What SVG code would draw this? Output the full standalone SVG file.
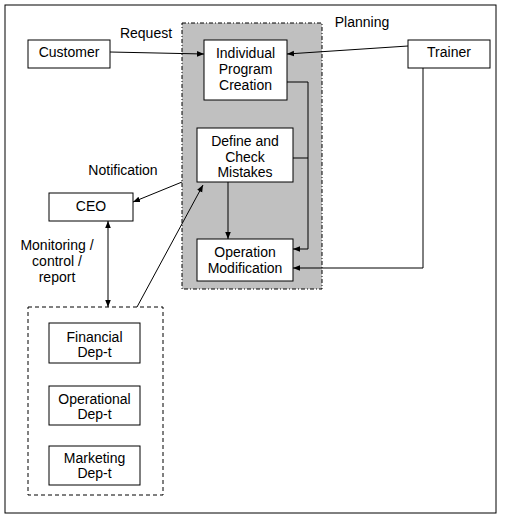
<svg xmlns="http://www.w3.org/2000/svg" width="505" height="521" viewBox="0 0 505 521">
<style>
text{font-family:"Liberation Sans",Arial,sans-serif;font-size:14px;fill:#000;text-anchor:middle}
.box{fill:#fff;stroke:#000;stroke-width:1}
.ln{fill:none;stroke:#000;stroke-width:1}
</style>
<defs>
<marker id="ah" viewBox="0 0 10 10" refX="10" refY="5" markerWidth="7" markerHeight="7" markerUnits="userSpaceOnUse" orient="auto-start-reverse">
<path d="M0,1 L10,5 L0,9 z" fill="#000"/>
</marker>
</defs>
<rect x="0" y="0" width="505" height="521" fill="#fff"/>
<rect x="5" y="5" width="491" height="508" fill="#fff" stroke="#000" stroke-width="1"/>
<g id="process-area">
<rect x="182" y="23" width="140" height="266" fill="#c0c0c0" stroke="#000" stroke-width="1" stroke-dasharray="4,2,1,2"/>
</g>
<g id="departments-area">
<rect x="28" y="307" width="135" height="188" fill="#fff" stroke="#000" stroke-width="1" stroke-dasharray="4,3"/>
</g>
<g id="labels">
<text x="146" y="38">Request</text>
<text x="362" y="27">Planning</text>
<text x="123" y="175">Notification</text>
<text x="57" y="250">Monitoring /</text>
<text x="57" y="266">control /</text>
<text x="57" y="282">report</text>
</g>
<g id="connectors">
<line class="ln" x1="110" y1="52" x2="204" y2="54" marker-end="url(#ah)"/>
<line class="ln" x1="408" y1="46" x2="287" y2="54" marker-end="url(#ah)"/>
<polyline class="ln" points="287,82 308,82 308,249 293,249" marker-end="url(#ah)"/>
<line class="ln" x1="293" y1="158" x2="308" y2="158"/>
<polyline class="ln" points="423,68 423,268 293,268" marker-end="url(#ah)"/>
<line class="ln" x1="228" y1="182" x2="228" y2="239" marker-end="url(#ah)"/>
<line class="ln" x1="182" y1="182" x2="133" y2="202" marker-end="url(#ah)"/>
<line class="ln" x1="137" y1="307" x2="203" y2="185" marker-end="url(#ah)"/>
<line class="ln" x1="108" y1="221" x2="108" y2="307" marker-start="url(#ah)" marker-end="url(#ah)"/>
</g>
<g id="customer">
<rect class="box" x="28" y="40" width="82" height="28"/>
<text x="69" y="57">Customer</text>
</g>
<g id="trainer">
<rect class="box" x="408" y="40" width="82" height="28"/>
<text x="449" y="57">Trainer</text>
</g>
<g id="individual-program-creation">
<rect class="box" x="204" y="40" width="83" height="60"/>
<text x="245.5" y="58">Individual</text>
<text x="245.5" y="74">Program</text>
<text x="245.5" y="90">Creation</text>
</g>
<g id="define-check-mistakes">
<rect class="box" x="197" y="128" width="96" height="54"/>
<text x="245" y="146">Define and</text>
<text x="245" y="162">Check</text>
<text x="245" y="177">Mistakes</text>
</g>
<g id="operation-modification">
<rect class="box" x="197" y="239" width="96" height="42"/>
<text x="245" y="257">Operation</text>
<text x="245" y="273">Modification</text>
</g>
<g id="ceo">
<rect class="box" x="49" y="193" width="84" height="28"/>
<text x="91" y="211">CEO</text>
</g>
<g id="financial">
<rect class="box" x="49" y="323" width="91" height="40"/>
<text x="94.5" y="342">Financial</text>
<text x="94.5" y="357">Dep-t</text>
</g>
<g id="operational">
<rect class="box" x="49" y="386" width="91" height="39"/>
<text x="94.5" y="404">Operational</text>
<text x="94.5" y="419">Dep-t</text>
</g>
<g id="marketing">
<rect class="box" x="49" y="446" width="91" height="39"/>
<text x="94.5" y="463">Marketing</text>
<text x="94.5" y="478">Dep-t</text>
</g>
</svg>
